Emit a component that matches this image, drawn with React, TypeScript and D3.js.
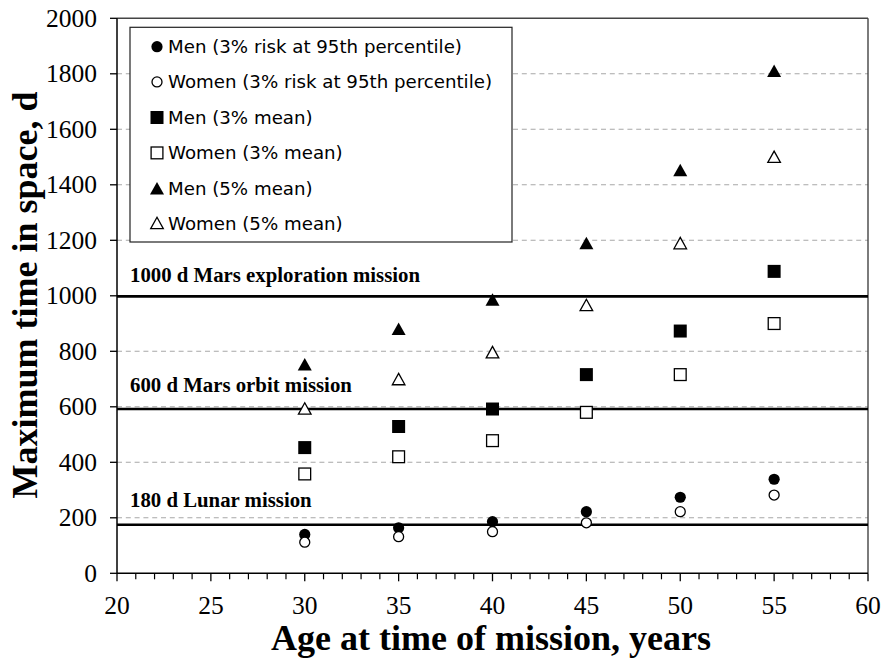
import React from "react";
import * as d3 from "d3";

const ages = [30, 35, 40, 45, 50, 55];
const men95 = [140, 164, 186, 222, 274, 339];
const women95 = [112, 132, 150, 182, 222, 282];
const men3Mean = [453, 529, 592, 716, 873, 1088];
const women3Mean = [358, 420, 478, 580, 716, 900];
const men5Mean = [753, 881, 987, 1190, 1453, 1811];
const women5Mean = [594, 700, 797, 967, 1190, 1501];

const xTicks = [20, 25, 30, 35, 40, 45, 50, 55, 60];
const yTicks = [0, 200, 400, 600, 800, 1000, 1200, 1400, 1600, 1800, 2000];
const gridValues = [200, 400, 600, 800, 1200, 1400, 1600, 1800];
const missionValues = [998, 592, 175];
const missionLabels = ["1000 d Mars exploration mission", "600 d Mars orbit mission", "180 d Lunar mission"];
const legendLabels = [
  "Men (3% risk at 95th percentile)",
  "Women (3% risk at 95th percentile)",
  "Men (3% mean)",
  "Women (3% mean)",
  "Men (5% mean)",
  "Women (5% mean)",
];

type Shape = "circle" | "square" | "triangle";
const seriesList: { values: number[]; shape: Shape; filled: boolean }[] = [
  { values: men95, shape: "circle", filled: true },
  { values: women95, shape: "circle", filled: false },
  { values: men3Mean, shape: "square", filled: true },
  { values: women3Mean, shape: "square", filled: false },
  { values: men5Mean, shape: "triangle", filled: true },
  { values: women5Mean, shape: "triangle", filled: false },
];

const W = 882;
const H = 658;
const x = d3.scaleLinear().domain([20, 60]).range([117, 868]);
const y = d3.scaleLinear().domain([0, 2000]).range([573.3, 18.3]);

function Marker({ cx, cy, shape, filled }: { cx: number; cy: number; shape: Shape; filled: boolean }) {
  const fill = filled ? "#000" : "#fff";
  const sw = 1.3;
  if (shape === "circle") {
    return filled ? (
      <circle cx={cx} cy={cy} r={5.6} fill="#000" />
    ) : (
      <circle cx={cx} cy={cy} r={5} fill="#fff" stroke="#000" strokeWidth={sw} />
    );
  }
  if (shape === "square") {
    const s = filled ? 13 : 11.8;
    return (
      <rect x={cx - s / 2} y={cy - s / 2} width={s} height={s} fill={fill} stroke={filled ? "none" : "#000"} strokeWidth={sw} />
    );
  }
  const w = filled ? 14 : 12.6;
  const h = filled ? 12.5 : 11.4;
  const p = d3.path();
  p.moveTo(cx, cy - h / 2);
  p.lineTo(cx + w / 2, cy + h / 2);
  p.lineTo(cx - w / 2, cy + h / 2);
  p.closePath();
  return <path d={p.toString()} fill={fill} stroke={filled ? "none" : "#000"} strokeWidth={sw} strokeLinejoin="miter" />;
}

export default function App() {
  const [x0, x1] = x.range();
  const minorTicks = d3.range(20, 61, 1).filter((v) => v % 5 !== 0);
  const legendRows = [46.7, 81.9, 117.5, 152.9, 188.2, 223.0];
  const serif = "'Liberation Serif', 'Times New Roman', serif";
  const sans = "'DejaVu Sans', Verdana, sans-serif";
  return (
    <svg width={W} height={H} style={{ position: "absolute", left: 0, top: 0, background: "#fff" }}>
      <rect x={0} y={0} width={W} height={H} fill="#fff" />
      {/* gridlines */}
      {gridValues.map((v) => (
        <line key={"g" + v} x1={x0} x2={x1} y1={y(v)} y2={y(v)} stroke="#a8a8a8" strokeWidth={1.1} strokeDasharray="5,3.8" />
      ))}
      {/* frame top and right */}
      <line x1={x0} x2={x1} y1={y(2000)} y2={y(2000)} stroke="#444" strokeWidth={1.4} />
      <line x1={x1} x2={x1} y1={y(2000)} y2={y(0)} stroke="#444" strokeWidth={1.4} />
      {/* mission lines */}
      {missionValues.map((v) => (
        <line key={"m" + v} x1={x0} x2={x1} y1={y(v)} y2={y(v)} stroke="#000" strokeWidth={2.6} />
      ))}
      {/* mission labels */}
      {missionLabels.map((t, i) => (
        <text key={t} x={130} y={[281.7, 391.7, 506.7][i]} fontFamily={serif} fontWeight="bold" fontSize={20.8} fill="#000">
          {t}
        </text>
      ))}
      {/* legend */}
      <rect x={130} y={27.3} width={382} height={214.7} fill="#fff" stroke="#222" strokeWidth={1.2} />
      {legendLabels.map((t, i) => (
        <g key={t}>
          <Marker cx={157} cy={legendRows[i]} shape={seriesList[i].shape} filled={seriesList[i].filled} />
          <text x={168} y={legendRows[i] + 6.5} fontFamily={sans} fontSize={18.2} fill="#000">
            {t}
          </text>
        </g>
      ))}
      {/* axes */}
      <line x1={x0} x2={x0} y1={y(2000)} y2={y(0)} stroke="#000" strokeWidth={1.5} />
      <line x1={x0} x2={x1} y1={y(0)} y2={y(0)} stroke="#000" strokeWidth={1.5} />
      {yTicks.map((v) => (
        <g key={"yt" + v}>
          <line x1={x0 - 7} x2={x0} y1={y(v)} y2={y(v)} stroke="#000" strokeWidth={1.3} />
          <text x={97} y={y(v) + 8.6} textAnchor="end" fontFamily={serif} fontSize={25.5} fill="#000">
            {v}
          </text>
        </g>
      ))}
      {xTicks.map((v) => (
        <g key={"xt" + v}>
          <line x1={x(v)} x2={x(v)} y1={y(0)} y2={y(0) + 8} stroke="#000" strokeWidth={1.3} />
          <text x={x(v)} y={613.5} textAnchor="middle" fontFamily={serif} fontSize={25.5} fill="#000">
            {v}
          </text>
        </g>
      ))}
      {minorTicks.map((v) => (
        <line key={"mt" + v} x1={x(v)} x2={x(v)} y1={y(0)} y2={y(0) + 6} stroke="#000" strokeWidth={1.2} />
      ))}
      {/* data */}
      {seriesList.map((s, si) =>
        s.values.map((v, i) => <Marker key={si + "-" + i} cx={x(ages[i])} cy={y(v)} shape={s.shape} filled={s.filled} />)
      )}
      {/* axis titles */}
      <text x={491} y={650} textAnchor="middle" fontFamily={serif} fontWeight="bold" fontSize={36} fill="#000">
        Age at time of mission, years
      </text>
      <text
        transform={`translate(37,295) rotate(-90)`}
        textAnchor="middle"
        fontFamily={serif}
        fontWeight="bold"
        fontSize={36}
        fill="#000"
      >
        Maximum time in space, d
      </text>
    </svg>
  );
}
